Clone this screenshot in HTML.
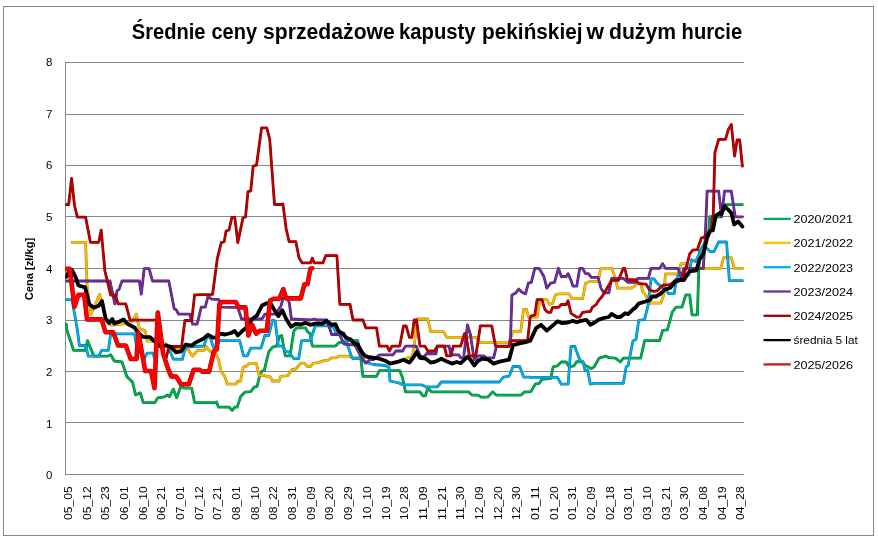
<!DOCTYPE html>
<html lang="pl"><head><meta charset="utf-8"><title>Średnie ceny sprzedażowe kapusty pekińskiej w dużym hurcie</title>
<style>html,body{margin:0;padding:0;background:#fff}svg{display:block}text{font-family:"Liberation Sans", sans-serif;fill:#000}</style></head><body>
<svg width="878" height="538" viewBox="0 0 878 538">
<rect x="0" y="0" width="878" height="538" fill="#fff"/>
<rect x="3.5" y="6.5" width="870" height="529" fill="none" stroke="#868686" stroke-width="1"/>
<g stroke="#868686" stroke-width="1" shape-rendering="crispEdges"><line x1="65" y1="474.5" x2="744" y2="474.5"/><line x1="65" y1="422.5" x2="744" y2="422.5"/><line x1="65" y1="371.5" x2="744" y2="371.5"/><line x1="65" y1="320.5" x2="744" y2="320.5"/><line x1="65" y1="268.5" x2="744" y2="268.5"/><line x1="65" y1="216.5" x2="744" y2="216.5"/><line x1="65" y1="165.5" x2="744" y2="165.5"/><line x1="65" y1="114.5" x2="744" y2="114.5"/><line x1="65" y1="62.5" x2="744" y2="62.5"/><line x1="65.5" y1="62" x2="65.5" y2="475"/></g>
<text y="38.7" font-size="21.6" font-weight="bold"><tspan x="131.8" textLength="73.7" lengthAdjust="spacingAndGlyphs">Średnie</tspan> <tspan x="211.5" textLength="45.5" lengthAdjust="spacingAndGlyphs">ceny</tspan> <tspan x="263.1" textLength="131.7" lengthAdjust="spacingAndGlyphs">sprzedażowe</tspan> <tspan x="399.0" textLength="76.6" lengthAdjust="spacingAndGlyphs">kapusty</tspan> <tspan x="482.1" textLength="100.4" lengthAdjust="spacingAndGlyphs">pekińskiej</tspan> <tspan x="586.5" textLength="17.5" lengthAdjust="spacingAndGlyphs">w</tspan> <tspan x="609.0" textLength="67.0" lengthAdjust="spacingAndGlyphs">dużym</tspan> <tspan x="681.6" textLength="60.6" lengthAdjust="spacingAndGlyphs">hurcie</tspan></text>
<text x="52.5" y="479.1" font-size="11.5" text-anchor="end">0</text>
<text x="52.5" y="427.5" font-size="11.5" text-anchor="end">1</text>
<text x="52.5" y="375.9" font-size="11.5" text-anchor="end">2</text>
<text x="52.5" y="324.2" font-size="11.5" text-anchor="end">3</text>
<text x="52.5" y="272.6" font-size="11.5" text-anchor="end">4</text>
<text x="52.5" y="221.0" font-size="11.5" text-anchor="end">5</text>
<text x="52.5" y="169.4" font-size="11.5" text-anchor="end">6</text>
<text x="52.5" y="117.7" font-size="11.5" text-anchor="end">7</text>
<text x="52.5" y="66.1" font-size="11.5" text-anchor="end">8</text>
<text transform="translate(33.2,300.3) rotate(-90)" font-size="11.5" font-weight="bold" textLength="62.6" lengthAdjust="spacingAndGlyphs">Cena [zł/kg]</text>
<text transform="translate(72.0,519.9) rotate(-90)" font-size="11.5" textLength="33.5" lengthAdjust="spacingAndGlyphs">05_05</text>
<text transform="translate(90.7,519.9) rotate(-90)" font-size="11.5" textLength="33.5" lengthAdjust="spacingAndGlyphs">05_12</text>
<text transform="translate(109.3,519.9) rotate(-90)" font-size="11.5" textLength="33.5" lengthAdjust="spacingAndGlyphs">05_23</text>
<text transform="translate(128.0,519.9) rotate(-90)" font-size="11.5" textLength="33.5" lengthAdjust="spacingAndGlyphs">06_01</text>
<text transform="translate(146.7,519.9) rotate(-90)" font-size="11.5" textLength="33.5" lengthAdjust="spacingAndGlyphs">06_10</text>
<text transform="translate(165.4,519.9) rotate(-90)" font-size="11.5" textLength="33.5" lengthAdjust="spacingAndGlyphs">06_21</text>
<text transform="translate(184.1,519.9) rotate(-90)" font-size="11.5" textLength="33.5" lengthAdjust="spacingAndGlyphs">07_01</text>
<text transform="translate(202.7,519.9) rotate(-90)" font-size="11.5" textLength="33.5" lengthAdjust="spacingAndGlyphs">07_12</text>
<text transform="translate(221.4,519.9) rotate(-90)" font-size="11.5" textLength="33.5" lengthAdjust="spacingAndGlyphs">07_21</text>
<text transform="translate(240.1,519.9) rotate(-90)" font-size="11.5" textLength="33.5" lengthAdjust="spacingAndGlyphs">08_01</text>
<text transform="translate(258.8,519.9) rotate(-90)" font-size="11.5" textLength="33.5" lengthAdjust="spacingAndGlyphs">08_10</text>
<text transform="translate(277.4,519.9) rotate(-90)" font-size="11.5" textLength="33.5" lengthAdjust="spacingAndGlyphs">08_22</text>
<text transform="translate(296.1,519.9) rotate(-90)" font-size="11.5" textLength="33.5" lengthAdjust="spacingAndGlyphs">08_31</text>
<text transform="translate(314.8,519.9) rotate(-90)" font-size="11.5" textLength="33.5" lengthAdjust="spacingAndGlyphs">09_09</text>
<text transform="translate(333.4,519.9) rotate(-90)" font-size="11.5" textLength="33.5" lengthAdjust="spacingAndGlyphs">09_20</text>
<text transform="translate(352.1,519.9) rotate(-90)" font-size="11.5" textLength="33.5" lengthAdjust="spacingAndGlyphs">09_29</text>
<text transform="translate(370.8,519.9) rotate(-90)" font-size="11.5" textLength="33.5" lengthAdjust="spacingAndGlyphs">10_10</text>
<text transform="translate(389.5,519.9) rotate(-90)" font-size="11.5" textLength="33.5" lengthAdjust="spacingAndGlyphs">10_19</text>
<text transform="translate(408.2,519.9) rotate(-90)" font-size="11.5" textLength="33.5" lengthAdjust="spacingAndGlyphs">10_28</text>
<text transform="translate(426.8,519.9) rotate(-90)" font-size="11.5" textLength="33.5" lengthAdjust="spacingAndGlyphs">11_09</text>
<text transform="translate(445.5,519.9) rotate(-90)" font-size="11.5" textLength="33.5" lengthAdjust="spacingAndGlyphs">11_21</text>
<text transform="translate(464.2,519.9) rotate(-90)" font-size="11.5" textLength="33.5" lengthAdjust="spacingAndGlyphs">11_30</text>
<text transform="translate(482.9,519.9) rotate(-90)" font-size="11.5" textLength="33.5" lengthAdjust="spacingAndGlyphs">12_09</text>
<text transform="translate(501.5,519.9) rotate(-90)" font-size="11.5" textLength="33.5" lengthAdjust="spacingAndGlyphs">12_20</text>
<text transform="translate(520.2,519.9) rotate(-90)" font-size="11.5" textLength="33.5" lengthAdjust="spacingAndGlyphs">12_30</text>
<text transform="translate(538.9,519.9) rotate(-90)" font-size="11.5" textLength="33.5" lengthAdjust="spacingAndGlyphs">01_11</text>
<text transform="translate(557.5,519.9) rotate(-90)" font-size="11.5" textLength="33.5" lengthAdjust="spacingAndGlyphs">01_20</text>
<text transform="translate(576.2,519.9) rotate(-90)" font-size="11.5" textLength="33.5" lengthAdjust="spacingAndGlyphs">01_31</text>
<text transform="translate(594.9,519.9) rotate(-90)" font-size="11.5" textLength="33.5" lengthAdjust="spacingAndGlyphs">02_09</text>
<text transform="translate(613.6,519.9) rotate(-90)" font-size="11.5" textLength="33.5" lengthAdjust="spacingAndGlyphs">02_18</text>
<text transform="translate(632.2,519.9) rotate(-90)" font-size="11.5" textLength="33.5" lengthAdjust="spacingAndGlyphs">03_01</text>
<text transform="translate(650.9,519.9) rotate(-90)" font-size="11.5" textLength="33.5" lengthAdjust="spacingAndGlyphs">03_10</text>
<text transform="translate(669.6,519.9) rotate(-90)" font-size="11.5" textLength="33.5" lengthAdjust="spacingAndGlyphs">03_21</text>
<text transform="translate(688.3,519.9) rotate(-90)" font-size="11.5" textLength="33.5" lengthAdjust="spacingAndGlyphs">03_30</text>
<text transform="translate(707.0,519.9) rotate(-90)" font-size="11.5" textLength="33.5" lengthAdjust="spacingAndGlyphs">04_08</text>
<text transform="translate(725.6,519.9) rotate(-90)" font-size="11.5" textLength="33.5" lengthAdjust="spacingAndGlyphs">04_19</text>
<text transform="translate(744.3,519.9) rotate(-90)" font-size="11.5" textLength="33.5" lengthAdjust="spacingAndGlyphs">04_28</text>
<clipPath id="pc"><rect x="65.2" y="60" width="680" height="416"/></clipPath>
<g fill="none" stroke-linejoin="round" stroke-linecap="round" clip-path="url(#pc)">
<polyline stroke="#007B38" stroke-width="2.80" points="66.3,324.2 66.8,330.0 73.6,350.3 85.2,350.3 87.5,340.6 93.9,356.1 108.0,356.1 110.7,354.6 114.2,361.0 122.0,361.9 126.8,376.5 132.6,382.3 135.5,394.9 140.3,392.9 143.3,402.6 154.9,402.6 157.8,397.8 164.5,396.8 167.5,394.9 169.4,396.8 173.3,389.1 176.7,397.8 181.0,386.1 183.9,388.1 191.7,388.1 194.6,402.6 215.9,402.6 216.5,401.9 218.4,407.1 229.0,407.1 232.3,410.4 234.8,407.1 237.2,407.1 240.7,396.5 244.9,392.2 250.7,391.6 254.2,387.2 257.1,386.4 260.0,374.2 262.0,371.3 264.3,370.3 268.7,351.9 272.6,347.1 276.5,346.1 279.4,336.5 281.7,335.5 285.2,355.8 290.0,355.8 293.9,330.7 296.8,327.8 305.5,327.8 307.5,331.6 310.0,333.6 312.3,346.1 335.5,346.1 339.4,342.3 344.2,342.3 349.1,340.7 357.8,340.7 360.7,357.8 362.9,376.4 376.5,376.4 379.4,370.6 399.7,370.6 402.6,377.8 405.5,391.9 420.0,391.9 422.9,395.8 425.4,395.8 427.8,388.4 431.6,391.9 468.4,391.9 472.3,395.2 478.1,395.2 481.0,397.1 487.8,397.1 492.6,391.9 496.5,395.2 520.7,395.2 524.6,391.9 530.0,391.9 531.3,391.0 535.2,384.2 539.1,383.3 542.0,379.4 550.7,378.4 553.2,366.8 557.4,365.8 561.3,362.0 566.2,362.0 569.1,366.8 573.9,365.8 576.8,361.6 582.6,362.0 585.5,365.8 588.4,366.8 591.3,368.7 594.2,366.8 599.1,358.1 605.8,356.1 608.8,357.7 615.5,358.1 620.4,362.0 623.3,358.1 640.7,358.1 644.6,340.7 650.0,340.7 659.7,340.6 662.6,330.3 667.4,329.9 672.3,312.0 676.1,307.1 682.0,307.1 685.8,294.9 689.7,294.9 692.0,314.9 697.4,314.9 699.3,252.0 702.0,248.0 705.4,242.0 708.6,232.0 709.8,216.6 720.7,216.8 724.5,204.6 742.4,204.6"/>
<polyline stroke="#00B050" stroke-width="1.70" points="66.3,324.2 66.8,330.0 73.6,350.3 85.2,350.3 87.5,340.6 93.9,356.1 108.0,356.1 110.7,354.6 114.2,361.0 122.0,361.9 126.8,376.5 132.6,382.3 135.5,394.9 140.3,392.9 143.3,402.6 154.9,402.6 157.8,397.8 164.5,396.8 167.5,394.9 169.4,396.8 173.3,389.1 176.7,397.8 181.0,386.1 183.9,388.1 191.7,388.1 194.6,402.6 215.9,402.6 216.5,401.9 218.4,407.1 229.0,407.1 232.3,410.4 234.8,407.1 237.2,407.1 240.7,396.5 244.9,392.2 250.7,391.6 254.2,387.2 257.1,386.4 260.0,374.2 262.0,371.3 264.3,370.3 268.7,351.9 272.6,347.1 276.5,346.1 279.4,336.5 281.7,335.5 285.2,355.8 290.0,355.8 293.9,330.7 296.8,327.8 305.5,327.8 307.5,331.6 310.0,333.6 312.3,346.1 335.5,346.1 339.4,342.3 344.2,342.3 349.1,340.7 357.8,340.7 360.7,357.8 362.9,376.4 376.5,376.4 379.4,370.6 399.7,370.6 402.6,377.8 405.5,391.9 420.0,391.9 422.9,395.8 425.4,395.8 427.8,388.4 431.6,391.9 468.4,391.9 472.3,395.2 478.1,395.2 481.0,397.1 487.8,397.1 492.6,391.9 496.5,395.2 520.7,395.2 524.6,391.9 530.0,391.9 531.3,391.0 535.2,384.2 539.1,383.3 542.0,379.4 550.7,378.4 553.2,366.8 557.4,365.8 561.3,362.0 566.2,362.0 569.1,366.8 573.9,365.8 576.8,361.6 582.6,362.0 585.5,365.8 588.4,366.8 591.3,368.7 594.2,366.8 599.1,358.1 605.8,356.1 608.8,357.7 615.5,358.1 620.4,362.0 623.3,358.1 640.7,358.1 644.6,340.7 650.0,340.7 659.7,340.6 662.6,330.3 667.4,329.9 672.3,312.0 676.1,307.1 682.0,307.1 685.8,294.9 689.7,294.9 692.0,314.9 697.4,314.9 699.3,252.0 702.0,248.0 705.4,242.0 708.6,232.0 709.8,216.6 720.7,216.8 724.5,204.6 742.4,204.6"/>
<polyline stroke="#B28600" stroke-width="2.80" points="72.0,242.3 85.6,242.3 87.1,286.5 91.0,314.5 99.7,294.2 101.6,302.0 106.5,321.3 111.3,325.2 122.0,324.2 131.8,321.9 136.4,314.3 139.4,328.7 145.1,330.6 147.1,341.1 151.0,341.1 165.5,343.6 170.4,349.4 187.8,349.4 192.6,356.1 197.5,350.3 204.2,350.3 206.2,346.5 210.0,351.3 214.9,351.3 218.6,360.0 221.1,371.3 224.7,376.4 227.3,384.1 236.0,384.1 237.5,381.5 240.6,381.0 243.2,367.2 246.8,366.2 248.8,363.6 256.5,363.6 259.1,375.4 264.7,375.4 266.8,376.4 270.3,376.9 272.4,381.0 279.1,381.0 280.6,376.4 288.0,375.6 292.0,369.4 295.8,369.0 300.7,363.2 304.5,363.2 307.5,366.5 310.4,366.5 313.3,363.2 318.1,362.6 323.9,360.7 327.8,360.1 331.7,357.8 335.5,357.8 339.4,356.2 348.1,356.2 353.0,357.8 360.7,357.8 360.7,357.8 367.7,357.2 379.4,358.9 385.2,360.7 390.0,363.2 398.7,361.6 405.5,359.7 407.4,357.8 412.3,356.8 415.2,338.4 417.1,319.0 427.8,319.0 430.7,331.6 443.3,331.6 447.1,337.4 476.2,337.4 480.0,342.7 509.1,342.7 513.0,331.6 520.7,331.6 523.6,309.4 526.5,309.4 526.5,309.4 528.4,317.1 537.1,317.1 540.0,299.7 546.8,299.7 549.7,304.5 552.6,303.6 555.5,294.9 558.4,293.9 569.1,293.9 572.0,298.7 582.6,298.7 585.5,283.2 590.4,281.3 598.1,281.3 601.0,268.3 611.7,268.3 615.5,278.4 617.5,288.1 630.5,288.2 634.6,286.2 637.2,282.6 640.7,283.1 642.8,291.8 645.4,294.4 649.0,303.1 649.0,303.2 660.7,303.2 663.6,295.5 665.5,273.8 678.1,273.8 681.0,263.6 686.8,263.6 689.7,268.4 720.7,268.4 723.6,257.7 731.3,257.7 734.2,268.4 742.4,268.4"/>
<polyline stroke="#FFC000" stroke-width="1.70" points="72.0,242.3 85.6,242.3 87.1,286.5 91.0,314.5 99.7,294.2 101.6,302.0 106.5,321.3 111.3,325.2 122.0,324.2 131.8,321.9 136.4,314.3 139.4,328.7 145.1,330.6 147.1,341.1 151.0,341.1 165.5,343.6 170.4,349.4 187.8,349.4 192.6,356.1 197.5,350.3 204.2,350.3 206.2,346.5 210.0,351.3 214.9,351.3 218.6,360.0 221.1,371.3 224.7,376.4 227.3,384.1 236.0,384.1 237.5,381.5 240.6,381.0 243.2,367.2 246.8,366.2 248.8,363.6 256.5,363.6 259.1,375.4 264.7,375.4 266.8,376.4 270.3,376.9 272.4,381.0 279.1,381.0 280.6,376.4 288.0,375.6 292.0,369.4 295.8,369.0 300.7,363.2 304.5,363.2 307.5,366.5 310.4,366.5 313.3,363.2 318.1,362.6 323.9,360.7 327.8,360.1 331.7,357.8 335.5,357.8 339.4,356.2 348.1,356.2 353.0,357.8 360.7,357.8 360.7,357.8 367.7,357.2 379.4,358.9 385.2,360.7 390.0,363.2 398.7,361.6 405.5,359.7 407.4,357.8 412.3,356.8 415.2,338.4 417.1,319.0 427.8,319.0 430.7,331.6 443.3,331.6 447.1,337.4 476.2,337.4 480.0,342.7 509.1,342.7 513.0,331.6 520.7,331.6 523.6,309.4 526.5,309.4 526.5,309.4 528.4,317.1 537.1,317.1 540.0,299.7 546.8,299.7 549.7,304.5 552.6,303.6 555.5,294.9 558.4,293.9 569.1,293.9 572.0,298.7 582.6,298.7 585.5,283.2 590.4,281.3 598.1,281.3 601.0,268.3 611.7,268.3 615.5,278.4 617.5,288.1 630.5,288.2 634.6,286.2 637.2,282.6 640.7,283.1 642.8,291.8 645.4,294.4 649.0,303.1 649.0,303.2 660.7,303.2 663.6,295.5 665.5,273.8 678.1,273.8 681.0,263.6 686.8,263.6 689.7,268.4 720.7,268.4 723.6,257.7 731.3,257.7 734.2,268.4 742.4,268.4"/>
<polyline stroke="#007BA8" stroke-width="2.80" points="66.3,299.6 72.0,299.6 77.4,330.0 79.4,345.5 86.1,345.5 88.1,356.1 98.7,356.1 101.6,350.3 108.4,350.3 110.7,333.9 134.5,333.9 136.5,345.5 144.2,359.0 147.1,353.2 152.9,353.2 154.9,359.0"/>
<polyline stroke="#00B0F0" stroke-width="1.70" points="66.3,299.6 72.0,299.6 77.4,330.0 79.4,345.5 86.1,345.5 88.1,356.1 98.7,356.1 101.6,350.3 108.4,350.3 110.7,333.9 134.5,333.9 136.5,345.5 144.2,359.0 147.1,353.2 152.9,353.2 154.9,359.0"/>
<polyline stroke="#007BA8" stroke-width="2.80" points="166.5,344.5 169.6,350.3 173.2,359.0 182.4,359.4 185.5,347.0 203.9,346.0 207.0,336.5 210.4,338.0 213.5,347.5 216.5,347.5 219.4,340.6 219.4,340.7 239.7,340.7 243.6,355.8 247.4,355.8 250.7,348.1 261.0,348.1 264.9,335.5 268.7,335.5 272.6,320.0 275.1,321.0 278.4,346.1 282.3,346.1 285.2,351.0 289.1,352.0 293.9,358.7 298.7,358.7 301.6,340.7 310.4,340.7 315.2,325.8 327.8,325.8 333.3,327.2 335.9,332.3 344.1,333.0 347.1,344.1 351.7,357.0 353.0,358.7 360.7,358.7 360.7,357.8 363.9,361.6 373.6,364.5 385.2,365.5 389.0,367.4 390.0,381.0 398.7,382.9 403.6,384.9 422.0,384.9 425.8,386.8 437.4,386.8 441.3,382.0 499.4,382.0 503.3,377.1 509.1,376.2 513.0,366.5 519.7,366.5 523.6,377.1 530.0,377.1 530.0,377.4 557.4,377.4 561.3,384.2 568.1,384.2 571.0,346.5 574.9,346.5 575.8,349.2 580.0,360.5 583.0,361.5 585.1,370.7 587.6,369.7 590.2,384.0 594.2,383.3 623.3,383.3 626.2,366.8 628.1,365.8 633.0,340.7 635.9,339.7 638.8,320.3 644.6,319.4 648.4,303.9 648.4,302.3 651.0,279.0 653.9,278.7 656.8,282.9 661.6,286.8 665.5,288.7 668.4,293.6 674.2,293.6 676.1,281.0 678.1,275.2 682.0,273.2 685.8,275.2 688.7,275.2 691.6,259.7 695.5,261.6 701.3,250.0 701.3,248.7 705.2,246.8 710.0,251.6 713.9,251.6 718.7,242.0 726.5,242.0 729.4,280.7 742.4,280.7"/>
<polyline stroke="#00B0F0" stroke-width="1.70" points="166.5,344.5 169.6,350.3 173.2,359.0 182.4,359.4 185.5,347.0 203.9,346.0 207.0,336.5 210.4,338.0 213.5,347.5 216.5,347.5 219.4,340.6 219.4,340.7 239.7,340.7 243.6,355.8 247.4,355.8 250.7,348.1 261.0,348.1 264.9,335.5 268.7,335.5 272.6,320.0 275.1,321.0 278.4,346.1 282.3,346.1 285.2,351.0 289.1,352.0 293.9,358.7 298.7,358.7 301.6,340.7 310.4,340.7 315.2,325.8 327.8,325.8 333.3,327.2 335.9,332.3 344.1,333.0 347.1,344.1 351.7,357.0 353.0,358.7 360.7,358.7 360.7,357.8 363.9,361.6 373.6,364.5 385.2,365.5 389.0,367.4 390.0,381.0 398.7,382.9 403.6,384.9 422.0,384.9 425.8,386.8 437.4,386.8 441.3,382.0 499.4,382.0 503.3,377.1 509.1,376.2 513.0,366.5 519.7,366.5 523.6,377.1 530.0,377.1 530.0,377.4 557.4,377.4 561.3,384.2 568.1,384.2 571.0,346.5 574.9,346.5 575.8,349.2 580.0,360.5 583.0,361.5 585.1,370.7 587.6,369.7 590.2,384.0 594.2,383.3 623.3,383.3 626.2,366.8 628.1,365.8 633.0,340.7 635.9,339.7 638.8,320.3 644.6,319.4 648.4,303.9 648.4,302.3 651.0,279.0 653.9,278.7 656.8,282.9 661.6,286.8 665.5,288.7 668.4,293.6 674.2,293.6 676.1,281.0 678.1,275.2 682.0,273.2 685.8,275.2 688.7,275.2 691.6,259.7 695.5,261.6 701.3,250.0 701.3,248.7 705.2,246.8 710.0,251.6 713.9,251.6 718.7,242.0 726.5,242.0 729.4,280.7 742.4,280.7"/>
<polyline stroke="#4E2170" stroke-width="2.80" points="66.3,281.0 110.0,281.0 114.8,303.9 117.1,290.7 119.1,289.4 122.0,281.0 139.4,281.0 141.3,294.2 144.2,268.7 149.1,268.7 152.5,281.0 168.8,281.0 174.2,308.7 176.2,309.7 178.5,314.2 189.7,314.2 192.6,324.2 197.1,324.2 201.3,307.2 205.2,307.2 208.1,296.1 211.8,299.2 219.0,299.6 220.7,307.2 237.8,307.4 241.6,319.0 262.0,319.0 264.9,314.2 272.6,314.2 275.9,313.8 280.9,306.1 283.1,298.3 287.5,298.3 289.3,302.8 291.4,319.0 310.4,320.0 314.2,319.0 318.1,320.0 326.8,320.0 331.7,334.5 339.4,334.5 344.2,344.2 354.9,345.2 361.7,357.8 365.5,362.6 365.8,363.2 369.7,359.7 373.6,359.7 379.4,354.9 392.9,354.9 395.8,351.0 402.6,351.0 405.5,346.1 416.1,346.1 420.0,355.8 423.9,356.8 426.8,353.5 435.9,353.9 437.4,346.1 449.1,346.1 451.0,354.9 458.7,354.9 460.7,357.8 463.6,357.8 467.5,324.8 470.4,334.5 474.2,359.7 478.1,355.8 483.9,355.8 486.8,357.8 493.6,357.8 496.5,346.1 509.1,346.1 510.6,336.5 511.9,294.9 515.8,292.9 518.7,289.1 521.6,292.0 525.5,293.9 528.4,283.2 531.3,282.3 534.8,268.3 539.1,268.3 543.9,276.5 546.8,288.1 550.7,283.2 554.5,282.3 558.4,268.3 561.3,276.5 566.2,276.5 568.1,273.6 571.0,280.3 572.9,286.1 576.8,286.1 579.7,268.3 582.6,268.3 585.5,273.6 588.4,273.6 591.3,277.4 598.1,277.4 601.0,288.1 603.9,292.9 608.8,292.9 611.7,278.4 623.3,278.4 628.1,282.3 634.9,282.3 637.8,278.4 648.4,278.4 648.4,278.1 651.0,268.4 659.7,268.4 662.6,263.6 665.5,268.4 678.1,268.4 681.0,277.1 683.9,268.4 703.3,268.4 705.2,238.1 707.1,191.2 718.7,191.2 721.6,216.8 724.5,191.2 731.3,191.2 735.2,216.8 742.4,216.8"/>
<polyline stroke="#7030A0" stroke-width="1.70" points="66.3,281.0 110.0,281.0 114.8,303.9 117.1,290.7 119.1,289.4 122.0,281.0 139.4,281.0 141.3,294.2 144.2,268.7 149.1,268.7 152.5,281.0 168.8,281.0 174.2,308.7 176.2,309.7 178.5,314.2 189.7,314.2 192.6,324.2 197.1,324.2 201.3,307.2 205.2,307.2 208.1,296.1 211.8,299.2 219.0,299.6 220.7,307.2 237.8,307.4 241.6,319.0 262.0,319.0 264.9,314.2 272.6,314.2 275.9,313.8 280.9,306.1 283.1,298.3 287.5,298.3 289.3,302.8 291.4,319.0 310.4,320.0 314.2,319.0 318.1,320.0 326.8,320.0 331.7,334.5 339.4,334.5 344.2,344.2 354.9,345.2 361.7,357.8 365.5,362.6 365.8,363.2 369.7,359.7 373.6,359.7 379.4,354.9 392.9,354.9 395.8,351.0 402.6,351.0 405.5,346.1 416.1,346.1 420.0,355.8 423.9,356.8 426.8,353.5 435.9,353.9 437.4,346.1 449.1,346.1 451.0,354.9 458.7,354.9 460.7,357.8 463.6,357.8 467.5,324.8 470.4,334.5 474.2,359.7 478.1,355.8 483.9,355.8 486.8,357.8 493.6,357.8 496.5,346.1 509.1,346.1 510.6,336.5 511.9,294.9 515.8,292.9 518.7,289.1 521.6,292.0 525.5,293.9 528.4,283.2 531.3,282.3 534.8,268.3 539.1,268.3 543.9,276.5 546.8,288.1 550.7,283.2 554.5,282.3 558.4,268.3 561.3,276.5 566.2,276.5 568.1,273.6 571.0,280.3 572.9,286.1 576.8,286.1 579.7,268.3 582.6,268.3 585.5,273.6 588.4,273.6 591.3,277.4 598.1,277.4 601.0,288.1 603.9,292.9 608.8,292.9 611.7,278.4 623.3,278.4 628.1,282.3 634.9,282.3 637.8,278.4 648.4,278.4 648.4,278.1 651.0,268.4 659.7,268.4 662.6,263.6 665.5,268.4 678.1,268.4 681.0,277.1 683.9,268.4 703.3,268.4 705.2,238.1 707.1,191.2 718.7,191.2 721.6,216.8 724.5,191.2 731.3,191.2 735.2,216.8 742.4,216.8"/>
<polyline stroke="#860000" stroke-width="2.80" points="66.3,204.5 68.7,204.5 71.6,178.4 74.5,205.5 77.4,217.1 85.6,217.1 90.4,242.3 98.7,242.3 101.2,230.1 104.9,271.0 110.7,295.2 115.2,295.2 118.1,303.9 125.8,303.9 130.1,320.2 154.9,320.2"/>
<polyline stroke="#C00000" stroke-width="1.70" points="66.3,204.5 68.7,204.5 71.6,178.4 74.5,205.5 77.4,217.1 85.6,217.1 90.4,242.3 98.7,242.3 101.2,230.1 104.9,271.0 110.7,295.2 115.2,295.2 118.1,303.9 125.8,303.9 130.1,320.2 154.9,320.2"/>
<polyline stroke="#860000" stroke-width="2.80" points="166.2,357.9 168.9,346.5 181.6,346.5 184.9,320.5 191.7,320.5 194.6,294.8 212.6,294.3 217.4,258.1 221.3,242.6 224.2,241.6 226.1,231.0 229.0,230.0 231.9,217.4 234.8,217.4 237.8,242.6 243.0,217.8 245.5,217.0 248.0,191.7 250.7,190.9 253.2,166.1 256.5,165.2 261.6,127.8 266.8,127.8 269.7,139.0 274.5,204.5 282.9,204.5 282.9,203.9 286.2,229.0 289.1,241.6 295.8,241.6 299.1,258.1 302.2,262.9 310.4,262.9 312.3,258.1 314.2,262.9 322.9,262.9 325.8,255.6 336.9,255.6 339.8,303.6 339.8,304.3 350.0,304.3 353.0,320.0 362.6,320.0 362.9,320.0 365.8,327.8 376.5,327.8 379.4,346.1 387.1,346.1 389.4,351.0 391.9,346.1 399.7,346.1 403.6,325.8 406.1,325.8 409.4,337.4 411.9,337.4 414.2,320.0 416.5,320.0 420.0,346.1 424.9,346.1 427.8,351.0 434.5,351.0 437.4,346.1 444.2,346.1 446.7,355.8 451.0,355.8 453.3,346.1 460.7,346.1 464.5,333.6 466.1,336.5 469.4,355.8 475.8,355.8 480.4,325.8 491.7,325.8 495.5,346.1 509.0,346.5 511.9,340.7 527.6,340.7 530.1,317.8 531.3,315.9 534.8,315.1 537.1,299.7 542.0,299.7 544.9,309.4 547.8,312.3 550.7,312.3 552.6,307.4 558.4,307.4 561.3,304.5 566.2,304.5 568.1,300.7 571.0,313.3 576.8,317.1 579.7,317.1 582.6,312.3 590.4,311.3 592.3,307.4 596.2,304.5 599.1,299.7 602.0,296.8 611.7,280.3 618.4,280.3 623.3,268.3 624.8,268.3 627.4,279.5 635.6,280.0 638.7,283.6 645.9,284.1 649.5,289.8 653.0,291.3 657.2,290.8 660.2,287.7 663.3,285.2 670.5,284.6 675.6,280.0 681.7,279.0 684.8,271.3 686.8,265.5 689.7,253.9 692.6,250.4 692.6,250.1 697.4,249.7 701.3,238.1 704.2,237.1 711.0,230.3 713.3,213.9 714.9,152.6 718.7,139.4 725.5,139.4 728.4,129.4 731.3,124.5 734.6,156.1 737.1,140.0 739.7,140.0 742.4,166.1"/>
<polyline stroke="#C00000" stroke-width="1.70" points="166.2,357.9 168.9,346.5 181.6,346.5 184.9,320.5 191.7,320.5 194.6,294.8 212.6,294.3 217.4,258.1 221.3,242.6 224.2,241.6 226.1,231.0 229.0,230.0 231.9,217.4 234.8,217.4 237.8,242.6 243.0,217.8 245.5,217.0 248.0,191.7 250.7,190.9 253.2,166.1 256.5,165.2 261.6,127.8 266.8,127.8 269.7,139.0 274.5,204.5 282.9,204.5 282.9,203.9 286.2,229.0 289.1,241.6 295.8,241.6 299.1,258.1 302.2,262.9 310.4,262.9 312.3,258.1 314.2,262.9 322.9,262.9 325.8,255.6 336.9,255.6 339.8,303.6 339.8,304.3 350.0,304.3 353.0,320.0 362.6,320.0 362.9,320.0 365.8,327.8 376.5,327.8 379.4,346.1 387.1,346.1 389.4,351.0 391.9,346.1 399.7,346.1 403.6,325.8 406.1,325.8 409.4,337.4 411.9,337.4 414.2,320.0 416.5,320.0 420.0,346.1 424.9,346.1 427.8,351.0 434.5,351.0 437.4,346.1 444.2,346.1 446.7,355.8 451.0,355.8 453.3,346.1 460.7,346.1 464.5,333.6 466.1,336.5 469.4,355.8 475.8,355.8 480.4,325.8 491.7,325.8 495.5,346.1 509.0,346.5 511.9,340.7 527.6,340.7 530.1,317.8 531.3,315.9 534.8,315.1 537.1,299.7 542.0,299.7 544.9,309.4 547.8,312.3 550.7,312.3 552.6,307.4 558.4,307.4 561.3,304.5 566.2,304.5 568.1,300.7 571.0,313.3 576.8,317.1 579.7,317.1 582.6,312.3 590.4,311.3 592.3,307.4 596.2,304.5 599.1,299.7 602.0,296.8 611.7,280.3 618.4,280.3 623.3,268.3 624.8,268.3 627.4,279.5 635.6,280.0 638.7,283.6 645.9,284.1 649.5,289.8 653.0,291.3 657.2,290.8 660.2,287.7 663.3,285.2 670.5,284.6 675.6,280.0 681.7,279.0 684.8,271.3 686.8,265.5 689.7,253.9 692.6,250.4 692.6,250.1 697.4,249.7 701.3,238.1 704.2,237.1 711.0,230.3 713.3,213.9 714.9,152.6 718.7,139.4 725.5,139.4 728.4,129.4 731.3,124.5 734.6,156.1 737.1,140.0 739.7,140.0 742.4,166.1"/>
<polyline stroke="#000000" stroke-width="3.80" points="66.3,276.8 68.7,271.9 72.0,270.0 75.5,276.8 78.4,285.5 85.2,287.4 89.0,303.9 93.9,307.8 98.7,305.8 101.0,302.3 102.0,301.0 104.1,311.3 105.6,318.5 109.2,323.1 112.3,319.0 114.3,323.6 118.4,322.0 123.6,319.5 127.7,324.1 131.8,326.1 134.8,327.7 137.9,332.8 143.0,336.9 150.0,337.2 160.7,346.5 165.5,345.5 170.4,346.5 176.2,352.3 181.0,351.3 185.8,344.5 191.7,345.5 195.5,342.6 203.3,338.7 208.1,334.8 213.0,337.7 216.5,337.4 219.4,333.6 225.2,334.5 231.0,333.0 234.8,331.0 237.8,335.5 242.6,330.7 247.4,326.8 252.3,319.0 257.1,315.2 262.0,305.5 266.8,303.2 270.7,303.6 274.5,310.3 278.4,316.1 282.3,310.3 286.2,319.0 291.0,326.8 295.8,323.9 300.7,324.5 305.5,322.9 310.4,324.8 316.2,323.3 322.0,323.9 326.8,321.0 331.7,324.8 335.4,324.1 338.4,330.7 342.5,333.8 346.6,337.9 350.7,339.5 353.8,343.1 357.9,344.6 362.0,352.3 364.8,355.8 367.7,356.8 379.4,358.7 385.2,360.7 390.0,363.6 398.7,361.6 403.6,359.7 409.4,362.6 413.2,357.8 416.7,352.0 420.0,357.8 425.8,358.7 430.7,362.6 435.5,361.6 441.3,358.7 447.1,361.6 452.0,363.6 456.8,362.0 460.7,363.2 467.5,356.8 470.4,359.7 474.2,365.5 478.1,360.7 482.0,358.7 487.8,359.3 493.6,363.6 499.4,361.6 509.1,359.7 513.0,345.2 520.7,343.2 525.5,342.2 530.3,340.7 536.1,328.1 541.0,324.8 546.8,330.6 552.6,325.6 557.4,321.3 562.3,323.2 567.1,322.7 572.9,320.9 576.8,322.3 580.7,320.9 586.5,319.9 590.4,324.8 594.2,322.8 598.1,319.9 603.9,318.0 608.8,317.0 611.7,313.9 616.5,317.0 620.4,317.0 625.2,313.2 628.1,314.1 633.0,309.3 634.9,308.3 638.8,303.5 645.5,301.5 650.0,300.0 651.9,296.5 655.8,296.5 660.7,293.6 664.5,289.7 670.3,287.8 675.2,281.9 680.0,280.0 683.9,280.0 686.8,275.2 689.7,271.3 696.5,270.3 699.4,259.7 703.3,253.9 707.1,238.1 710.0,231.3 712.9,230.3 715.8,215.8 719.7,212.9 721.6,213.9 724.5,206.1 727.5,209.0 731.3,212.9 734.2,224.5 738.1,221.6 742.4,226.5"/>
<polyline stroke="#B20000" stroke-width="4.60" points="66.3,268.7 69.7,268.7 74.5,306.8 78.4,294.8 84.2,294.8 87.1,319.4 101.6,319.4 105.5,332.2 113.2,332.2 118.1,345.5 125.8,345.5 130.7,359.0 136.5,359.0 138.4,332.9 145.2,371.0 151.0,371.0 154.5,388.1 157.8,312.6 163.1,353.5 168.5,370.0 171.3,376.5 176.2,376.5 181.0,384.2 188.8,384.2 193.6,369.7 199.4,369.7 202.3,371.6 209.1,371.6 213.9,351.3 216.8,349.4 219.4,304.5 222.3,302.0 235.8,302.0 238.7,307.4 245.5,307.4 248.4,335.5 251.9,324.8 256.1,333.6 260.0,330.7 266.8,330.7 270.1,300.6 273.6,298.7 279.4,298.7 283.3,289.1 286.2,298.4 300.7,298.4 304.5,284.2 307.5,284.2 310.4,268.7 312.3,268.3"/>
<polyline stroke="#FF0000" stroke-width="3.50" points="66.3,268.7 69.7,268.7 74.5,306.8 78.4,294.8 84.2,294.8 87.1,319.4 101.6,319.4 105.5,332.2 113.2,332.2 118.1,345.5 125.8,345.5 130.7,359.0 136.5,359.0 138.4,332.9 145.2,371.0 151.0,371.0 154.5,388.1 157.8,312.6 163.1,353.5 168.5,370.0 171.3,376.5 176.2,376.5 181.0,384.2 188.8,384.2 193.6,369.7 199.4,369.7 202.3,371.6 209.1,371.6 213.9,351.3 216.8,349.4 219.4,304.5 222.3,302.0 235.8,302.0 238.7,307.4 245.5,307.4 248.4,335.5 251.9,324.8 256.1,333.6 260.0,330.7 266.8,330.7 270.1,300.6 273.6,298.7 279.4,298.7 283.3,289.1 286.2,298.4 300.7,298.4 304.5,284.2 307.5,284.2 310.4,268.7 312.3,268.3"/>
</g>
<line x1="763.5" y1="218.9" x2="790.8" y2="218.9" stroke="#0CA850" stroke-width="2.3"/>
<text x="793.5" y="223.2" font-size="11.2" textLength="59.6" lengthAdjust="spacingAndGlyphs">2020/2021</text>
<line x1="763.5" y1="242.9" x2="790.8" y2="242.9" stroke="#FFC000" stroke-width="2.3"/>
<text x="793.5" y="247.2" font-size="11.2" textLength="59.6" lengthAdjust="spacingAndGlyphs">2021/2022</text>
<line x1="763.5" y1="267.2" x2="790.8" y2="267.2" stroke="#00B0F0" stroke-width="2.3"/>
<text x="793.5" y="271.5" font-size="11.2" textLength="59.6" lengthAdjust="spacingAndGlyphs">2022/2023</text>
<line x1="763.5" y1="291.5" x2="790.8" y2="291.5" stroke="#7030A0" stroke-width="2.3"/>
<text x="793.5" y="295.8" font-size="11.2" textLength="59.6" lengthAdjust="spacingAndGlyphs">2023/2024</text>
<line x1="763.5" y1="315.8" x2="790.8" y2="315.8" stroke="#A00000" stroke-width="2.3"/>
<text x="793.5" y="320.1" font-size="11.2" textLength="59.6" lengthAdjust="spacingAndGlyphs">2024/2025</text>
<line x1="763.5" y1="340.1" x2="790.8" y2="340.1" stroke="#000000" stroke-width="2.3"/>
<text x="793.5" y="344.4" font-size="11.2" textLength="64.3" lengthAdjust="spacingAndGlyphs">średnia 5 lat</text>
<line x1="763.5" y1="364.4" x2="790.8" y2="364.4" stroke="#D01818" stroke-width="2.3"/>
<text x="793.5" y="368.7" font-size="11.2" textLength="59.6" lengthAdjust="spacingAndGlyphs">2025/2026</text>
</svg></body></html>
